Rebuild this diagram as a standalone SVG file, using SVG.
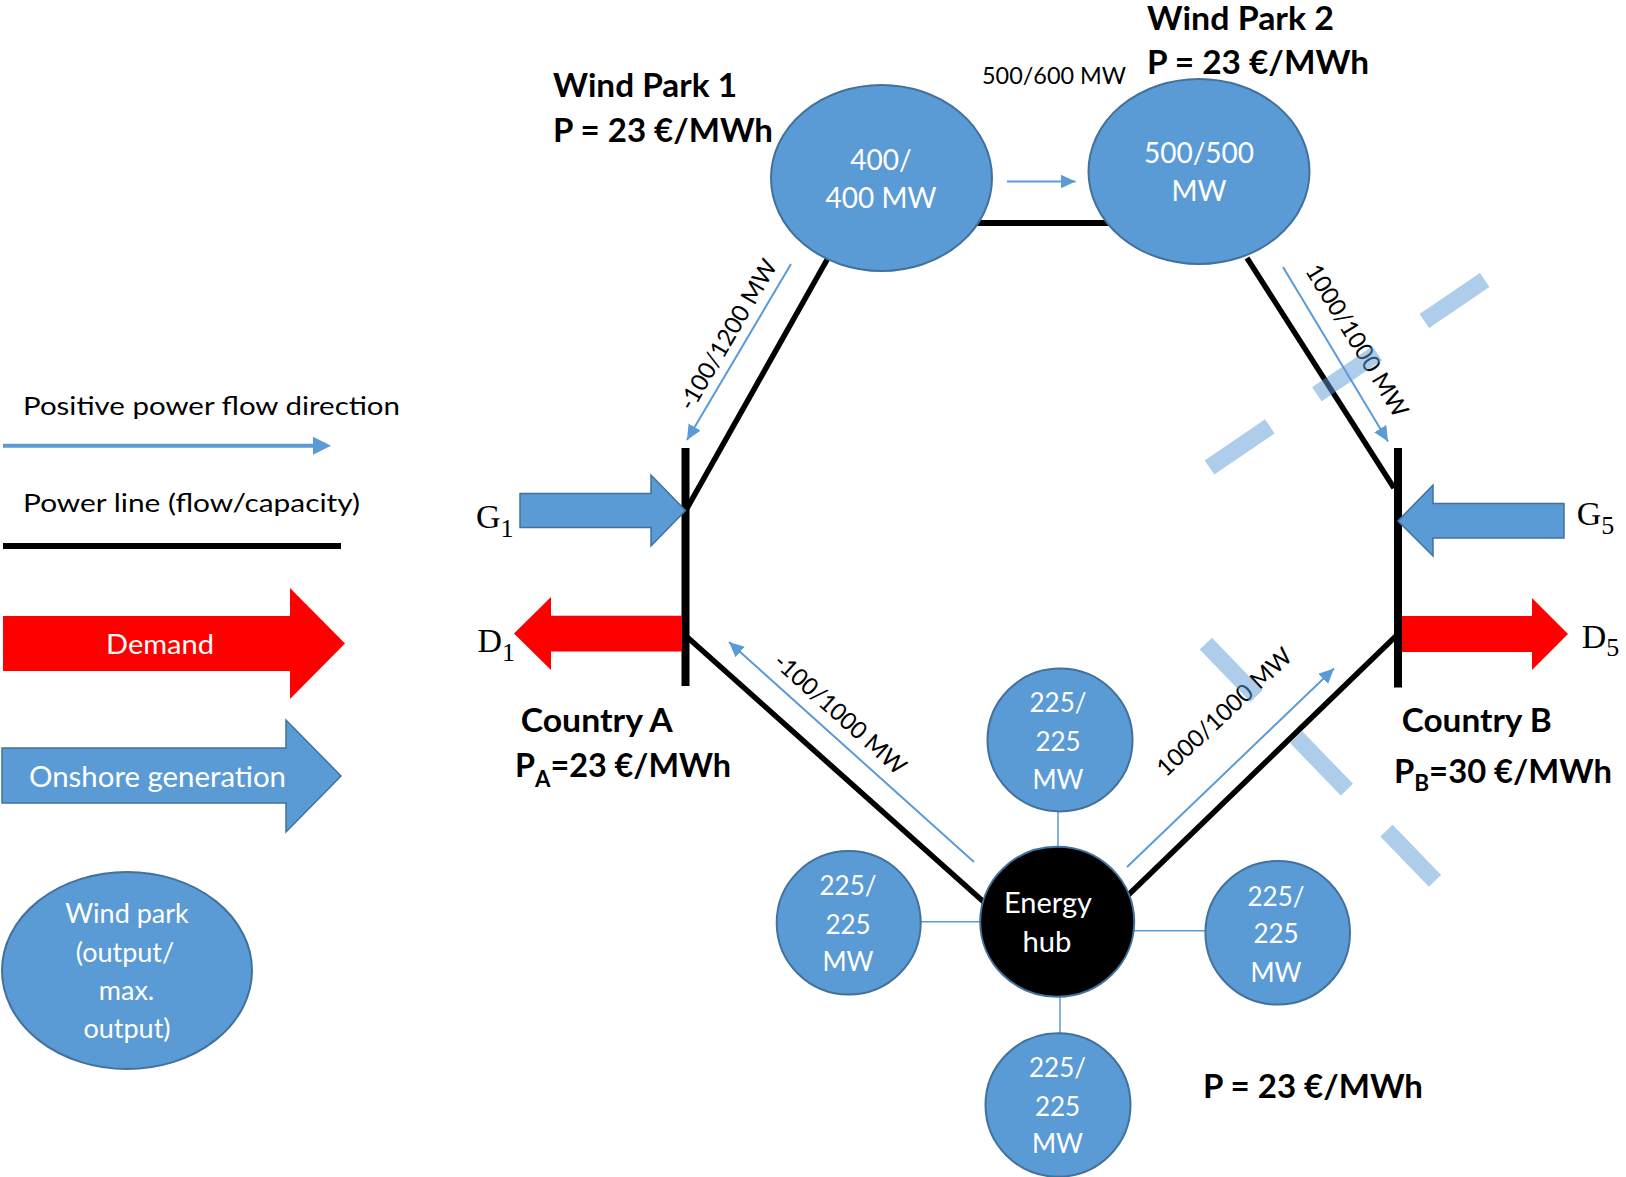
<svg xmlns="http://www.w3.org/2000/svg" width="1626" height="1177" viewBox="0 0 1626 1177">
<defs>
<style>
.t{font-family:Lato,"Open Sans","DejaVu Sans",sans-serif;fill:#000}
.b{font-weight:700}
.w{fill:#fff}
.m{text-anchor:middle}
.s{font-family:"Liberation Serif","DejaVu Serif",serif;font-size:34px;fill:#000}
.pl{stroke:#000;stroke-width:5.5;fill:none}
.bus{stroke:#000;stroke-width:8;fill:none}
.flow{stroke:#5B9BD5;stroke-width:2;fill:none;marker-end:url(#ah)}
.cn{stroke:#5B9BD5;stroke-width:1.5;fill:none}
.wp{fill:#5B9BD5;stroke:#41719C;stroke-width:2}
.dash{stroke:#5B9BD5;stroke-opacity:0.5;stroke-width:17;stroke-dasharray:73 57;fill:none}
</style>
<marker id="ah" markerUnits="userSpaceOnUse" markerWidth="16" markerHeight="15" refX="15" refY="7" orient="auto"><path d="M0,0 L15,7 L0,14 Z" fill="#5B9BD5"/></marker>
<marker id="ahL" markerUnits="userSpaceOnUse" markerWidth="19" markerHeight="19" refX="4" refY="9" orient="auto"><path d="M0,0 L18,9 L0,18 Z" fill="#5B9BD5"/></marker>
</defs>
<rect width="1626" height="1177" fill="#fff"/>

<g id="connectors">
<line class="pl" x1="975" y1="223" x2="1110" y2="223" style="stroke-width:6"/>
<line class="pl" x1="828" y1="258" x2="686" y2="510"/>
<line class="pl" x1="1247" y1="258" x2="1394" y2="488"/>
<line class="pl" x1="686" y1="636" x2="995" y2="912"/>
<line class="pl" x1="1120" y1="903" x2="1396" y2="636"/>
<line class="cn" x1="1058" y1="810" x2="1058" y2="848"/>
<line class="cn" x1="919" y1="921.7" x2="982" y2="921.7"/>
<line class="cn" x1="1133" y1="930.7" x2="1207" y2="930.7"/>
<line class="cn" x1="1060" y1="995" x2="1060" y2="1035"/>
<line class="flow" x1="1007" y1="181.5" x2="1075.5" y2="181.5"/>
<line class="flow" x1="791" y1="264" x2="687" y2="440"/>
<line class="flow" x1="1283" y1="267" x2="1388" y2="441.5"/>
<line class="flow" x1="974" y1="862" x2="729" y2="642"/>
<line class="flow" x1="1127" y1="867" x2="1334" y2="668.5"/>
<text class="t" x="982" y="84" font-size="24" textLength="144" lengthAdjust="spacingAndGlyphs">500/600 MW</text>
<text class="t m" font-size="24" textLength="170" lengthAdjust="spacingAndGlyphs" transform="translate(735 339) rotate(-59.6)">-100/1200 MW</text>
<text class="t m" font-size="24" textLength="174" lengthAdjust="spacingAndGlyphs" transform="translate(1350 345) rotate(58.6)">1000/1000 MW</text>
<text class="t m" font-size="24" textLength="168" lengthAdjust="spacingAndGlyphs" transform="translate(834.6 720) rotate(41.9)">-100/1000 MW</text>
<text class="t m" font-size="24" textLength="175" lengthAdjust="spacingAndGlyphs" transform="translate(1230 718) rotate(-43)">1000/1000 MW</text>
</g>

<g id="wind-park-1">
<ellipse class="wp" cx="881.5" cy="178" rx="110.5" ry="93"/>
<text class="t w m" font-size="28"><tspan x="881" y="170">400/</tspan><tspan x="881" y="208">400 MW</tspan></text>
<text class="t b" x="553" y="97" font-size="32" textLength="184" lengthAdjust="spacingAndGlyphs">Wind Park 1</text>
<text class="t b" x="553" y="142" font-size="32" textLength="220" lengthAdjust="spacingAndGlyphs">P = 23 €/MWh</text>
</g>

<g id="wind-park-2">
<ellipse class="wp" cx="1199" cy="171.5" rx="110.5" ry="92.5"/>
<text class="t w m" font-size="28"><tspan x="1199" y="162.7">500/500</tspan><tspan x="1199" y="201">MW</tspan></text>
<text class="t b" x="1147" y="30" font-size="32" textLength="187" lengthAdjust="spacingAndGlyphs">Wind Park 2</text>
<text class="t b" x="1147" y="74" font-size="32" textLength="222" lengthAdjust="spacingAndGlyphs">P = 23 €/MWh</text>
</g>

<g id="country-a">
<line class="bus" x1="685.5" y1="448" x2="685.5" y2="686"/>
<polygon points="520,493.5 651,493.5 651,475 685.5,510.5 651,546 651,527.5 520,527.5" fill="#5B9BD5" stroke="#41719C" stroke-width="1.5"/>
<polygon points="682,615.7 551,615.7 551,597 514,633.5 551,670 551,651.5 682,651.5" fill="#FF0000"/>
<text class="s" x="476" y="528">G<tspan dy="9" font-size="26">1</tspan></text>
<text class="s" x="477.5" y="651.7">D<tspan dy="9" font-size="26">1</tspan></text>
<text class="t b" x="520.7" y="731.7" font-size="32" textLength="152" lengthAdjust="spacingAndGlyphs">Country A</text>
<text class="t b" x="515" y="776.7" font-size="32" textLength="216" lengthAdjust="spacingAndGlyphs">P<tspan dy="10" font-size="22">A</tspan><tspan dy="-10">=23 €/MWh</tspan></text>
</g>

<g id="country-b">
<line class="bus" x1="1398" y1="448" x2="1398" y2="687.5"/>
<polygon points="1564,503.5 1433,503.5 1433,485 1398,521 1433,556 1433,538 1564,538" fill="#5B9BD5" stroke="#41719C" stroke-width="1.5"/>
<polygon points="1402,616 1532,616 1532,598 1568,634 1532,670 1532,652 1402,652" fill="#FF0000"/>
<text class="s" x="1576.7" y="525.4">G<tspan dy="9" font-size="26">5</tspan></text>
<text class="s" x="1581.7" y="648">D<tspan dy="8" font-size="26">5</tspan></text>
<text class="t b" x="1401.7" y="732" font-size="32" textLength="150" lengthAdjust="spacingAndGlyphs">Country B</text>
<text class="t b" x="1394" y="783" font-size="32" textLength="218" lengthAdjust="spacingAndGlyphs">P<tspan dy="8" font-size="22">B</tspan><tspan dy="-8">=30 €/MWh</tspan></text>
</g>

<g id="energy-hub">
<ellipse cx="1057.2" cy="921.7" rx="77" ry="75" fill="#000" stroke="#41719C" stroke-width="2"/>
<text class="t w m" x="1048" y="913.3" font-size="28" textLength="88" lengthAdjust="spacingAndGlyphs">Energy</text>
<text class="t w m" x="1047" y="951.7" font-size="28" textLength="49" lengthAdjust="spacingAndGlyphs">hub</text>
</g>

<g id="hub-park-top">
<ellipse class="wp" cx="1060" cy="740" rx="72.5" ry="71.4"/>
<text class="t w m" font-size="26"><tspan x="1058" y="712">225/</tspan><tspan x="1058" y="751">225</tspan><tspan x="1058" y="789">MW</tspan></text>
</g>
<g id="hub-park-left">
<ellipse class="wp" cx="848.7" cy="922.8" rx="72" ry="71.7"/>
<text class="t w m" font-size="26"><tspan x="848" y="895.4">225/</tspan><tspan x="848" y="934">225</tspan><tspan x="848" y="971">MW</tspan></text>
</g>
<g id="hub-park-right">
<ellipse class="wp" cx="1277.7" cy="932.8" rx="72.3" ry="71.8"/>
<text class="t w m" font-size="26"><tspan x="1276" y="905.5">225/</tspan><tspan x="1276" y="943.4">225</tspan><tspan x="1276" y="982">MW</tspan></text>
</g>
<g id="hub-park-bottom">
<ellipse class="wp" cx="1058" cy="1105" rx="72.5" ry="71.7"/>
<text class="t w m" font-size="26"><tspan x="1057.5" y="1077">225/</tspan><tspan x="1057.5" y="1115.5">225</tspan><tspan x="1057.5" y="1153">MW</tspan></text>
</g>
<g id="hub-price">
<text class="t b" x="1203" y="1098" font-size="32" textLength="220" lengthAdjust="spacingAndGlyphs">P = 23 €/MWh</text>
</g>

<g id="legend">
<text class="t" x="23" y="415" font-size="25" textLength="377" lengthAdjust="spacingAndGlyphs">Positive power flow direction</text>
<line x1="3" y1="445.7" x2="317" y2="445.7" stroke="#5B9BD5" stroke-width="4" marker-end="url(#ahL)"/>
<text class="t" x="23" y="511.7" font-size="25" textLength="337" lengthAdjust="spacingAndGlyphs">Power line (flow/capacity)</text>
<line x1="3" y1="546" x2="341" y2="546" stroke="#000" stroke-width="6"/>
<polygon points="3,616 290,616 290,588 345,643.5 290,699 290,671 3,671" fill="#FF0000"/>
<text class="t w m" x="160" y="654" font-size="27" textLength="108" lengthAdjust="spacingAndGlyphs">Demand</text>
<polygon points="2,748 286,748 286,720 341,776 286,832 286,803 2,803" fill="#5B9BD5" stroke="#41719C" stroke-width="1.5"/>
<text class="t w m" x="157.5" y="787" font-size="28" textLength="257" lengthAdjust="spacingAndGlyphs">Onshore generation</text>
<ellipse class="wp" cx="127" cy="970.5" rx="125" ry="98.5"/>
<text class="t w m" font-size="27"><tspan x="127" y="923">Wind park</tspan><tspan x="125" y="962">(output/</tspan><tspan x="126.5" y="1000">max.</tspan><tspan x="127" y="1038">output)</tspan></text>
</g>

<g id="dash-marks">
<line class="dash" x1="1209.5" y1="467.5" x2="1486" y2="279"/>
<line class="dash" x1="1205.8" y1="643.7" x2="1435" y2="880.8"/>
</g>
</svg>
